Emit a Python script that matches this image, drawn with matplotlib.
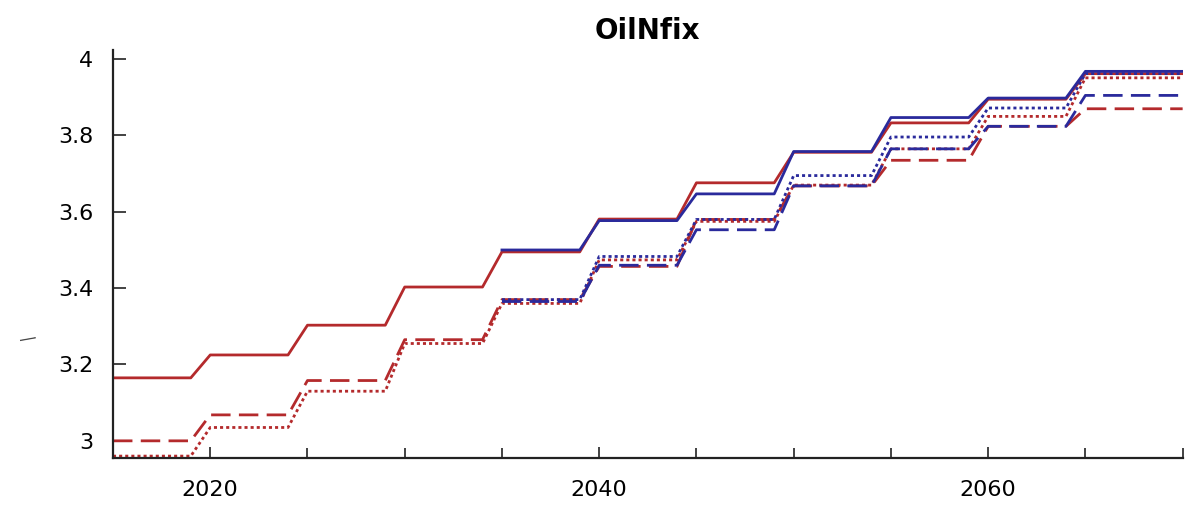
import numpy as np
import matplotlib.pyplot as plt
from matplotlib.ticker import MultipleLocator

# five-year blocks, value held constant inside each block
period_start = [2015, 2020, 2025, 2030, 2035, 2040, 2045, 2050, 2055, 2060, 2065]
period_end = [2019, 2024, 2029, 2034, 2039, 2044, 2049, 2054, 2059, 2064, 2070]

red_solid = [3.165, 3.225, 3.303, 3.403, 3.495, 3.581, 3.676, 3.756, 3.833, 3.895, 3.962]
red_dashed = [3.000, 3.068, 3.158, 3.265, 3.370, 3.457, 3.580, 3.668, 3.735, 3.824, 3.870]
red_dotted = [2.960, 3.035, 3.130, 3.255, 3.360, 3.474, 3.575, 3.670, 3.765, 3.850, 3.951]

# second run only reported from 2035 on
blue_start = [2035, 2040, 2045, 2050, 2055, 2060, 2065]
blue_end = [2039, 2044, 2049, 2054, 2059, 2064, 2070]
blue_solid = [3.500, 3.577, 3.647, 3.758, 3.847, 3.898, 3.968]
blue_dashed = [3.365, 3.460, 3.553, 3.668, 3.765, 3.824, 3.905]
blue_dotted = [3.370, 3.483, 3.580, 3.695, 3.796, 3.872, 3.962]

RED = "#b42a2c"
BLUE = "#2a2a9c"


def steps(starts, ends, vals):
    x = np.column_stack([starts, ends]).ravel()
    y = np.repeat(vals, 2)
    return x, y


plt.rcParams["lines.scale_dashes"] = False

fig = plt.figure(figsize=(11.97, 5.08), dpi=100)
ax = fig.add_axes([0.0944, 0.0984, 0.8936, 0.8032])

lw = 2.0
dash = (0, (14, 6))
dot = (0, (2.2, 2.2))

for vals, ls in [(red_solid, "-"), (red_dashed, dash), (red_dotted, dot)]:
    x, y = steps(period_start, period_end, vals)
    ax.plot(x, y, color=RED, lw=lw, linestyle=ls)

for vals, ls in [(blue_solid, "-"), (blue_dashed, dash), (blue_dotted, dot)]:
    x, y = steps(blue_start, blue_end, vals)
    ax.plot(x, y, color=BLUE, lw=lw, linestyle=ls)

ax.set_xlim(2015, 2070)
ax.set_ylim(2.955, 4.024)
ax.xaxis.set_major_locator(MultipleLocator(20))
ax.xaxis.set_minor_locator(MultipleLocator(5))
ax.set_yticks([3, 3.2, 3.4, 3.6, 3.8, 4])
ax.set_yticklabels(["3", "3.2", "3.4", "3.6", "3.8", "4"])

ax.tick_params(axis="both", which="both", direction="in", labelsize=16,
               color="#222222", width=1.2)
ax.tick_params(axis="y", length=9, pad=14)
ax.tick_params(axis="x", which="major", length=8, pad=16)
ax.tick_params(axis="x", which="minor", length=7)

for side in ["top", "right"]:
    ax.spines[side].set_visible(False)
for side in ["left", "bottom"]:
    ax.spines[side].set_linewidth(1.6)
    ax.spines[side].set_color("#222222")

ax.set_title("OilNfix", fontsize=20, fontweight="bold", pad=8)
fig.text(0.022, 1 - 337 / 508, "|", rotation=100, fontsize=11, color="#444444",
         ha="center", va="center")

fig.savefig("out.png", dpi=100)
